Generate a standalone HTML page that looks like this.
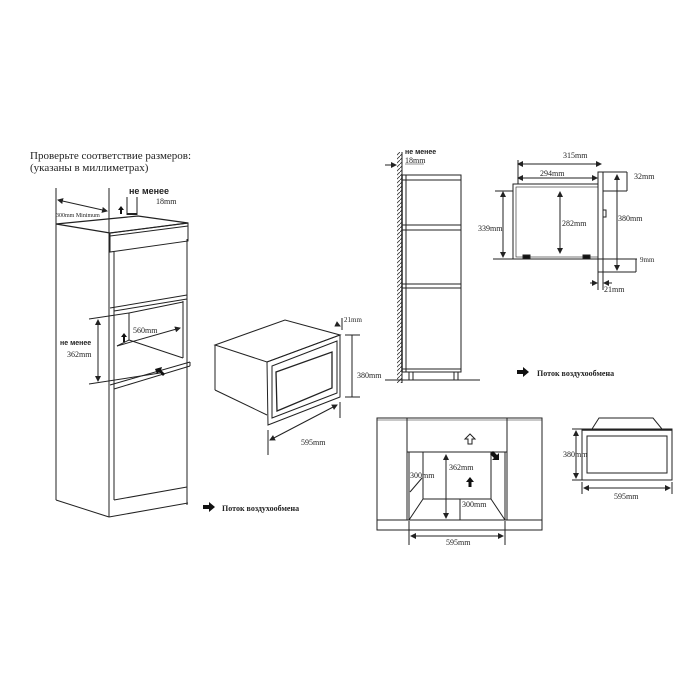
<!DOCTYPE html>
<html><head><meta charset="utf-8"><style>
html,body{margin:0;padding:0;background:#fff}
svg{display:block}
text{font-family:"Liberation Serif",serif;fill:#222}
.b{font-family:"Liberation Sans",sans-serif;font-weight:bold}
</style></head><body>
<svg width="700" height="700" viewBox="0 0 700 700" xmlns="http://www.w3.org/2000/svg">
<defs>
<marker id="a" markerWidth="6" markerHeight="6" refX="5" refY="3" orient="auto"><path d="M0,0 L6,3 L0,6 z" fill="#222"/></marker>
<marker id="s" markerWidth="6" markerHeight="6" refX="1" refY="3" orient="auto"><path d="M6,0 L0,3 L6,6 z" fill="#222"/></marker>
<pattern id="h" width="4" height="4" patternUnits="userSpaceOnUse"><path d="M0,4 L4,0" stroke="#333" stroke-width="0.8"/></pattern>
</defs>
<g stroke="#222" fill="none" stroke-width="1">
<text x="30" y="159" font-size="11" stroke="none">Проверьте соответствие размеров:</text>
<text x="30" y="171" font-size="11" stroke="none">(указаны в миллиметрах)</text>

<!-- left cabinet -->
<line x1="56" y1="188" x2="56" y2="224"/>
<line x1="109" y1="188" x2="109" y2="517"/>
<polygon points="56,224 138,216 188,223 110,233" stroke-width="1.2"/>
<line x1="110" y1="236" x2="188" y2="226"/>
<polygon points="110,233 188,223 188,241 110,252"/>
<line x1="56" y1="224" x2="56" y2="500"/>
<line x1="56" y1="500" x2="109" y2="517"/>
<line x1="114" y1="252" x2="114" y2="500"/>
<line x1="187" y1="239" x2="187" y2="505"/>
<line x1="110" y1="308" x2="187" y2="295"/>
<line x1="114" y1="311" x2="187" y2="299"/>
<line x1="129" y1="313" x2="129" y2="340"/>
<line x1="129" y1="313" x2="183" y2="302"/>
<line x1="183" y1="301" x2="183" y2="358"/>
<line x1="117" y1="346" x2="129" y2="340"/>
<line x1="129" y1="340" x2="183" y2="358"/>
<line x1="117" y1="346" x2="180" y2="328" marker-end="url(#a)"/>
<line x1="110" y1="385" x2="190" y2="362"/>
<line x1="114" y1="389" x2="190" y2="366"/>
<line x1="190" y1="362" x2="190" y2="366"/>
<line x1="114" y1="500" x2="187" y2="487"/>
<line x1="109" y1="517" x2="188" y2="503"/>
<line x1="58" y1="200" x2="107" y2="211" marker-start="url(#s)" marker-end="url(#a)"/>
<text x="56" y="217" font-size="6" stroke="none">300mm Minimum</text>
<line x1="127" y1="197" x2="127" y2="215"/><line x1="137" y1="197" x2="137" y2="215"/>
<line x1="127" y1="214" x2="137" y2="214" stroke-width="2"/>
<text x="129" y="194" font-size="9" class="b" stroke="none">не менее</text>
<text x="156" y="204" font-size="8" stroke="none">18mm</text>
<path d="M121,206 l-3,4 h2 v4 h2 v-4 h2 z" fill="#111" stroke="none"/>
<path d="M124,333 l-3,4 h2 v5 h2 v-5 h2 z" fill="#111" stroke="none"/>
<text x="133" y="333" font-size="8" stroke="none">560mm</text>
<line x1="89" y1="319" x2="129" y2="313"/>
<line x1="89" y1="384" x2="160" y2="373"/>
<line x1="98" y1="320" x2="98" y2="381" marker-start="url(#s)" marker-end="url(#a)"/>
<text x="60" y="345" font-size="7" class="b" stroke="none">не менее</text>
<text x="67" y="357" font-size="8" stroke="none">362mm</text>
<path d="M155,369 l7,-2 l-1,3 l4,4 l-2,2 l-4,-4 l-2,2 z" fill="#111" stroke="none"/>

<!-- isometric microwave -->
<polygon points="215,345 285,320 340,335 267,362"/>
<line x1="215" y1="345" x2="215" y2="390"/>
<line x1="215" y1="390" x2="267" y2="415"/>
<polygon points="267,362 340,335 340,397 268,425"/>
<polygon points="272,366 337,341 337,393 272,418"/>
<polygon points="276,372 332,352 332,388 277,411" stroke-width="1.3"/>
<line x1="268" y1="430" x2="268" y2="455"/>
<line x1="340" y1="402" x2="340" y2="418"/>
<line x1="270" y1="440" x2="337" y2="405" marker-start="url(#s)" marker-end="url(#a)"/>
<text x="301" y="445" font-size="8" stroke="none">595mm</text>
<line x1="352" y1="335" x2="352" y2="397"/>
<line x1="345" y1="335" x2="360" y2="335"/><line x1="345" y1="397" x2="360" y2="397"/>
<text x="357" y="378" font-size="8" stroke="none">380mm</text>
<line x1="336" y1="324" x2="340" y2="326" marker-end="url(#a)"/>
<line x1="342" y1="318" x2="342" y2="330"/>
<text x="344" y="322" font-size="7" stroke="none">21mm</text>

<path d="M203,505 h6 v-3 l6,5 l-6,5 v-3 h-6 z" fill="#111" stroke="none"/>
<text x="222" y="511" font-size="8" class="b" style="font-family:'Liberation Serif',serif" stroke="none">Поток воздухообмена</text>

<!-- tall cabinet side -->
<rect x="397" y="152" width="5" height="231" fill="url(#h)" stroke="none"/>
<line x1="402" y1="152" x2="402" y2="383"/>
<line x1="402" y1="175" x2="402" y2="372" stroke-width="1.5"/>
<line x1="406" y1="175" x2="406" y2="372"/>
<line x1="461" y1="175" x2="461" y2="372"/>
<rect x="402" y="175" width="59" height="5"/>
<rect x="402" y="225" width="59" height="5"/>
<rect x="402" y="284" width="59" height="4"/>
<rect x="402" y="369" width="59" height="3"/>
<line x1="409" y1="372" x2="409" y2="380"/><line x1="413" y1="372" x2="413" y2="380"/>
<line x1="454" y1="372" x2="454" y2="380"/><line x1="458" y1="372" x2="458" y2="380"/>
<line x1="385" y1="380" x2="480" y2="380"/>
<line x1="385" y1="165" x2="396" y2="165" marker-end="url(#a)"/>
<text x="405" y="154" font-size="7" class="b" stroke="none">не менее</text>
<text x="405" y="163" font-size="8" stroke="none">18mm</text>
<line x1="405" y1="164" x2="424" y2="164" stroke-width="0.6"/>
<path d="M517,370 h6 v-3 l6,5 l-6,5 v-3 h-6 z" fill="#111" stroke="none"/>
<text x="537" y="376" font-size="8" class="b" style="font-family:'Liberation Serif',serif" stroke="none">Поток воздухообмена</text>

<!-- side profile -->
<rect x="513" y="184" width="85" height="75"/>
<rect x="516" y="187" width="82" height="70" stroke-width="0.6"/>
<rect x="598" y="172" width="5" height="100"/>
<rect x="603" y="210" width="3" height="7"/>
<rect x="523" y="255" width="7" height="4" fill="#111"/>
<rect x="583" y="255" width="7" height="4" fill="#111"/>
<line x1="518" y1="164" x2="601" y2="164" marker-start="url(#s)" marker-end="url(#a)"/>
<line x1="518" y1="160" x2="518" y2="184"/>
<text x="563" y="158" font-size="8" stroke="none">315mm</text>
<line x1="518" y1="178" x2="597" y2="178" marker-start="url(#s)" marker-end="url(#a)"/>
<text x="540" y="176" font-size="8" stroke="none">294mm</text>
<line x1="603" y1="172" x2="627" y2="172"/><line x1="603" y1="191" x2="627" y2="191"/>
<line x1="627" y1="172" x2="627" y2="191"/>
<text x="634" y="179" font-size="8" stroke="none">32mm</text>
<line x1="617" y1="175" x2="617" y2="270" marker-start="url(#s)" marker-end="url(#a)"/>
<text x="618" y="221" font-size="8" stroke="none">380mm</text>
<line x1="598" y1="259" x2="637" y2="259"/><line x1="603" y1="272" x2="636" y2="272"/>
<line x1="636" y1="259" x2="636" y2="272"/>
<text x="640" y="262" font-size="7" stroke="none">9mm</text>
<line x1="495" y1="191" x2="513" y2="191"/><line x1="493" y1="259" x2="513" y2="259"/>
<line x1="503" y1="192" x2="503" y2="257" marker-start="url(#s)" marker-end="url(#a)"/>
<text x="478" y="231" font-size="8" stroke="none">339mm</text>
<line x1="560" y1="192" x2="560" y2="253" marker-start="url(#s)" marker-end="url(#a)"/>
<text x="562" y="226" font-size="8" stroke="none">282mm</text>
<line x1="590" y1="283" x2="597" y2="283" marker-end="url(#a)"/>
<line x1="612" y1="283" x2="604" y2="283" marker-end="url(#a)"/>
<line x1="598" y1="272" x2="598" y2="290"/><line x1="603" y1="272" x2="603" y2="290"/>
<text x="604" y="292" font-size="8" stroke="none">21mm</text>

<!-- front installation -->
<rect x="377" y="418" width="165" height="112"/>
<line x1="407" y1="418" x2="407" y2="520"/>
<line x1="507" y1="418" x2="507" y2="520"/>
<line x1="377" y1="420" x2="542" y2="420" stroke-width="0.6"/>
<line x1="407" y1="452" x2="507" y2="452"/>
<line x1="377" y1="520" x2="542" y2="520"/>
<line x1="409" y1="452" x2="409" y2="520"/>
<line x1="505" y1="452" x2="505" y2="520"/>
<line x1="423" y1="452" x2="423" y2="499"/>
<line x1="491" y1="452" x2="491" y2="499"/>
<line x1="423" y1="499" x2="491" y2="499"/>
<line x1="409" y1="520" x2="423" y2="499"/>
<line x1="505" y1="520" x2="491" y2="499"/>
<path d="M470,434 l-5,5 h3 v5 h4 v-5 h3 z" fill="#fff"/>
<path d="M470,477 l-4,5 h2.5 v5 h3 v-5 h2.5 z" fill="#111" stroke="none"/>
<path d="M493,451 l4,4 l2,-2 v7 h-7 l2,-2 l-4,-4 z" fill="#111" stroke="none"/>
<line x1="446" y1="455" x2="446" y2="518" marker-start="url(#s)" marker-end="url(#a)"/>
<text x="449" y="470" font-size="8" stroke="none">362mm</text>
<line x1="410" y1="492" x2="422" y2="478"/>
<text x="410" y="478" font-size="8" stroke="none">300mm</text>
<line x1="460" y1="499" x2="460" y2="520"/>
<text x="462" y="507" font-size="8" stroke="none">300mm</text>
<line x1="409" y1="521" x2="409" y2="545"/><line x1="505" y1="521" x2="505" y2="545"/>
<line x1="411" y1="536" x2="503" y2="536" marker-start="url(#s)" marker-end="url(#a)"/>
<text x="446" y="545" font-size="8" stroke="none">595mm</text>

<!-- small front view -->
<polygon points="592,429 599,418 653,418 662,429"/>
<rect x="582" y="429" width="90" height="51"/>
<line x1="582" y1="430" x2="672" y2="430" stroke-width="1.5"/>
<rect x="587" y="436" width="80" height="37"/>
<line x1="576" y1="431" x2="576" y2="478" marker-start="url(#s)" marker-end="url(#a)"/>
<line x1="572" y1="429" x2="582" y2="429"/><line x1="572" y1="480" x2="582" y2="480"/>
<text x="563" y="457" font-size="8" stroke="none">380mm</text>
<line x1="582" y1="482" x2="582" y2="494"/><line x1="672" y1="482" x2="672" y2="494"/>
<line x1="584" y1="488" x2="670" y2="488" marker-start="url(#s)" marker-end="url(#a)"/>
<text x="614" y="499" font-size="8" stroke="none">595mm</text>
</g>
</svg>
</body></html>
